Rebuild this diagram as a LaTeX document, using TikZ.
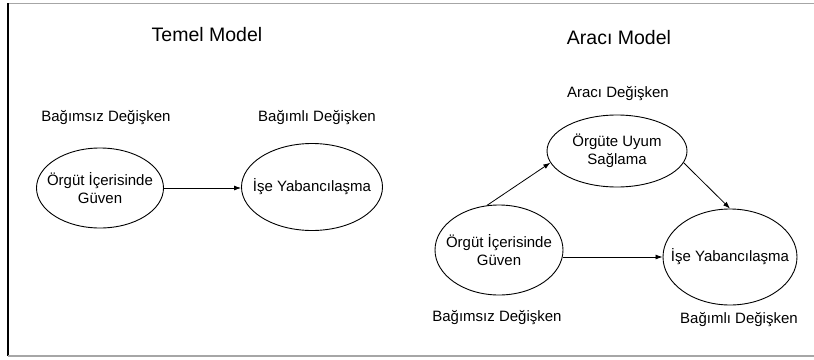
\documentclass[tikz,border=0pt]{standalone}
\usepackage{fontspec}
\setmainfont{Liberation Sans}
\usetikzlibrary{shapes.geometric,arrows.meta}
\begin{document}
\begin{tikzpicture}[x=1pt,y=-1pt,
  oval/.style={draw,line width=0.9pt,ellipse,inner sep=-45pt,align=center,font=\fontsize{15}{18}\selectfont},
  lbl/.style={inner sep=0pt,font=\fontsize{15}{17.5}\selectfont},
  ttl/.style={inner sep=0pt,font=\fontsize{19.5}{22}\selectfont},
  conn/.style={line width=0.8pt,-{Latex[length=7pt,width=5pt]}}]
\useasboundingbox (0,0) rectangle (814,359);
\draw[line width=1pt,gray!70] (814,3) -- (8,3);
\draw[line width=1.2pt] (8,3) -- (8,356);
\draw[line width=1.2pt,gray!70] (8,356) -- (814,356);

\node[ttl] (t1) at (207,35) {Temel Model};
\node[ttl] (t2) at (619,38) {Aracı Model};

\node[lbl] (l1) at (106,118) {Bağımsız Değişken};
\node[lbl] (l2) at (317,118) {Bağımlı Değişken};
\node[oval,minimum width=127pt,minimum height=80pt] (e1) at (100,188) {Örgüt İçerisinde\\Güven};
\node[oval,minimum width=141pt,minimum height=87pt] (e2) at (312,187) {İşe Yabancılaşma};
\draw[conn] (e1.east) -- (e1.east -| e2.west);

\node[lbl] (l3) at (618,94) {Aracı Değişken};
\node[oval,minimum width=140pt,minimum height=72pt] (e3) at (617,151) {Örgüte Uyum\\Sağlama};
\node[oval,minimum width=128pt,minimum height=90pt] (e4) at (499,250) {Örgüt İçerisinde\\Güven};
\node[oval,minimum width=134pt,minimum height=96pt] (e5) at (730,257) {İşe Yabancılaşma};
\node[lbl] (l4) at (497,318) {Bağımsız Değişken};
\node[lbl] (l5) at (739,320) {Bağımlı Değişken};

\draw[conn] (e4.105) -- (e3.190);
\draw[conn] (e3.-10) -- (e5.north);
\draw[conn] (e5.west -| e4.east) -- (e5.west);
\end{tikzpicture}
\end{document}
